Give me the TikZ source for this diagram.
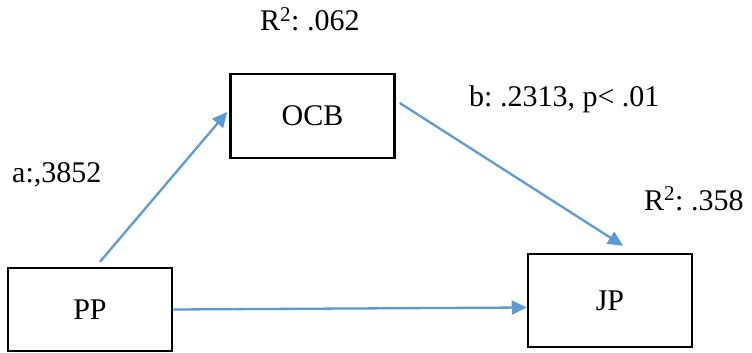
\documentclass[tikz,border=0pt]{standalone}
\usepackage{fontspec}
\setmainfont{Liberation Serif}
\usetikzlibrary{arrows.meta}
\definecolor{arrowblue}{RGB}{91,155,213}
\begin{document}
\frenchspacing
\begin{tikzpicture}[x=1pt,y=-1pt,
  every node/.style={font=\fontsize{30}{36}\selectfont\frenchspacing, inner sep=0pt},
  varbox/.style={draw=black, line width=2.5pt, minimum width=164pt},
  lbl/.style={anchor=base west},
  conn/.style={draw=arrowblue, line width=2.3pt, -{Triangle[length=15pt,width=14pt]}}]
\useasboundingbox (0,0) rectangle (752,353);
\node[varbox, minimum height=84pt] (OCB) at (312.5,116) {OCB};
\node[varbox, minimum height=83pt] (PP) at (90,309.5) {PP};
\node[varbox, minimum height=93pt] (JP) at (610,300.5) {JP};
\node[lbl] (r1) at (260,31) {R\textsuperscript{2}: .062};
\node[lbl] (lb) at (469,106) {b: .2313, p< .01};
\node[lbl] (la) at (12,182) {a:,3852};
\node[lbl] (r2) at (644,210) {R\textsuperscript{2}: .358};
\draw[conn] ([xshift=10pt,yshift=5pt]PP.north) -- ([xshift=-2pt,yshift=4pt]OCB.west);
\draw[conn] ([xshift=4pt,yshift=13pt]OCB.east) -- ([xshift=13pt,yshift=7pt]JP.north);
\draw[conn] (PP.east) -- ([yshift=-7pt]JP.west);
\end{tikzpicture}
\end{document}
